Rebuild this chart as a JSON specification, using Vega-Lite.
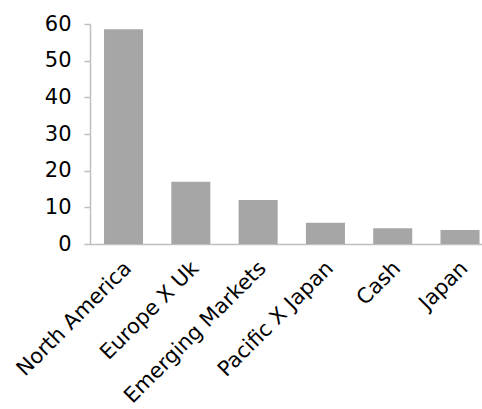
{
  "$schema": "https://vega.github.io/schema/vega-lite/v6.json",
  "width": 392,
  "height": 220,
  "autosize": {"type": "none"},
  "padding": {"left": 90, "top": 24, "right": 0, "bottom": 165},
  "background": "white",
  "config": {
    "view": {"stroke": null},
    "font": "DejaVu Sans"
  },
  "data": {
    "values": [
      {"region": "North America", "value": 58.6},
      {"region": "Europe X Uk", "value": 17.0},
      {"region": "Emerging Markets", "value": 12.0},
      {"region": "Pacific X Japan", "value": 5.8},
      {"region": "Cash", "value": 4.3},
      {"region": "Japan", "value": 3.8}
    ]
  },
  "mark": {"type": "bar", "color": "#A6A6A6"},
  "encoding": {
    "x": {
      "field": "region",
      "type": "nominal",
      "sort": null,
      "scale": {"paddingInner": 0.42, "paddingOuter": 0.1225, "align": 0.85},
      "axis": {
        "title": null,
        "labelAngle": -45,
        "labelFontSize": 21,
        "labelColor": "#000000",
        "labelFont": "DejaVu Sans",
        "labelLimit": 0,
        "ticks": false,
        "domainColor": "#BFBFBF",
        "domainWidth": 1.5,
        "labelPadding": 13,
        "labelOffset": -3,
        "labelOverlap": false
      }
    },
    "y": {
      "field": "value",
      "type": "quantitative",
      "scale": {"domain": [0, 60]},
      "axis": {
        "title": null,
        "values": [0, 10, 20, 30, 40, 50, 60],
        "grid": false,
        "labelFontSize": 21,
        "labelColor": "#000000",
        "labelFont": "DejaVu Sans",
        "tickColor": "#BFBFBF",
        "tickSize": 6,
        "tickWidth": 1.5,
        "domainColor": "#BFBFBF",
        "domainWidth": 1.5,
        "labelPadding": 13
      }
    }
  }
}
